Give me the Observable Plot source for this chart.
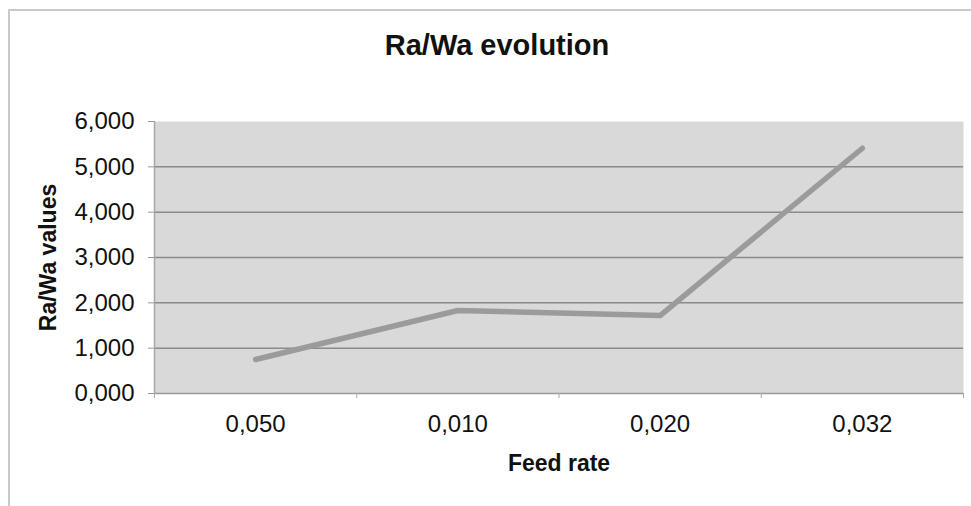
<!DOCTYPE html>
<html>
<head>
<meta charset="utf-8">
<script src="https://cdn.jsdelivr.net/npm/d3@7"></script>
<script src="https://cdn.jsdelivr.net/npm/@observablehq/plot@0.6"></script>
<style>
  html, body { margin: 0; padding: 0; background: #fff; width: 971px; height: 506px; overflow: hidden; }
  #wrap { position: relative; width: 971px; height: 506px; font-family: "Liberation Sans", Arial, sans-serif; }
  #frame { position: absolute; left: 8px; top: 9px; width: 990px; height: 520px; border: 2px solid #c9c9c9; box-sizing: border-box; pointer-events: none; }
  #title { height: 80px; box-sizing: border-box; padding-top: 31px; padding-left: 23px; text-align: center; font-size: 29px; line-height: 28px; font-weight: bold; color: #111; }
  #chart svg { display: block; }
</style>
</head>
<body>
<div id="wrap">
  <div id="frame"></div>
  <div id="title">Ra/Wa evolution</div>
  <div id="chart"></div>
</div>
<script>
const categories = ["0,050", "0,010", "0,020", "0,032"];
const values = [0.75, 1.83, 1.72, 5.41];
const yTicks = [0, 1, 2, 3, 4, 5, 6];
const gridTicks = [1, 2, 3, 4, 5];
const xLabel = "Feed rate";
const yLabel = "Ra/Wa values";

const data = categories.map((c, i) => ({i, cat: c, v: values[i]}));
const idx = categories.map((c, i) => i);
const bounds = d3.range(categories.length + 1).map(k => k - 0.5);
const fmt = d => d.toFixed(3).replace(".", ",");

const plot = Plot.plot({
  width: 971,
  height: 426,
  marginTop: 41,
  marginBottom: 113,
  marginLeft: 154,
  marginRight: 8,
  style: {fontFamily: "'Liberation Sans', Arial, sans-serif", color: "#111", background: "transparent"},
  x: {type: "linear", domain: [-0.5, categories.length - 0.5]},
  y: {domain: [0, 6]},
  marks: [
    Plot.frame({fill: "#d9d9d9", stroke: null}),
    Plot.ruleY(gridTicks, {stroke: "#8a8a8a", strokeWidth: 1.5}),
    Plot.ruleY([0], {stroke: "#9a9a9a", strokeWidth: 1.5}),
    Plot.ruleX([-0.5], {stroke: "#a8a8a8", strokeWidth: 1.5}),
    Plot.axisY({ticks: yTicks, tickFormat: fmt, tickSize: 6, tickPadding: 14, fontSize: 24, label: null, stroke: "#999"}),
    Plot.axisX({ticks: bounds, tickFormat: () => "", tickSize: 5, label: null, stroke: "#aaa"}),
    Plot.axisX({ticks: idx, tickFormat: i => categories[i], tickSize: 0, tickPadding: 21, fontSize: 24, label: null}),
    Plot.line(data, {x: "i", y: "v", stroke: "#9b9b9b", strokeWidth: 5.5, strokeLinecap: "round", strokeLinejoin: "round"}),
    Plot.text([yLabel], {text: d => d, frameAnchor: "left", textAnchor: "middle", dx: -106, rotate: -90, fontSize: 23, fontWeight: "bold", fill: "#111"}),
    Plot.text([xLabel], {text: d => d, frameAnchor: "bottom", textAnchor: "middle", dy: 77, fontSize: 23, fontWeight: "bold", fill: "#111"})
  ]
});
document.getElementById("chart").appendChild(plot);
</script>
</body>
</html>
